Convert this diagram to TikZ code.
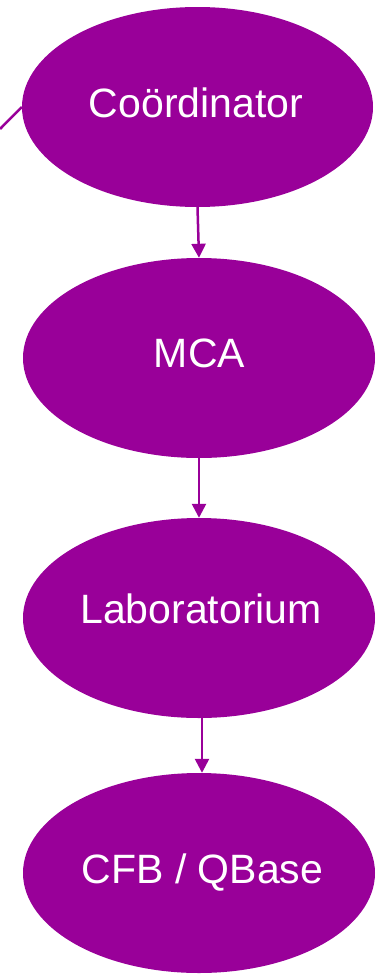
\documentclass[tikz,border=0pt]{standalone}
\usepackage{fontspec}
\setmainfont{Liberation Sans}
\usetikzlibrary{shapes.geometric,arrows.meta}
\definecolor{vio}{RGB}{153,0,153}
\begin{document}
\begin{tikzpicture}[x=1pt,y=-1pt,
  oval/.style={ellipse,fill=vio,draw=none,inner sep=0pt,minimum width=352pt,minimum height=200pt},
  txt/.style={anchor=base,inner sep=0pt,text=white,font=\fontsize{41}{48}\selectfont},
  conn/.style={draw=vio,line width=2.5pt,-{Triangle[length=14pt,width=14pt]}}]
\useasboundingbox (0,0) rectangle (383,977);
\node[oval,minimum width=351pt] (c) at (197.5,107) {};
\node[oval] (m) at (199,358) {};
\node[oval] (l) at (199,618) {};
\node[oval] (q) at (199,873) {};
\node[txt] (ct) at (196,117) {Coördinator};
\node[txt] (mt) at (199.5,367) {MCA};
\node[txt] (lt) at (201,623) {Laboratorium};
\node[txt] (qt) at (202.5,883) {CFB / QBase};
\coordinate (lf) at (0,129);
\draw[draw=vio,line width=2.5pt] (lf) -- (c.west);
\draw[conn] (c.south) -- (m.north);
\draw[conn] (m.south) -- (l.north);
\draw[conn] ([xshift=3pt]l.south) -- ([xshift=3pt]q.north);
\end{tikzpicture}
\end{document}
